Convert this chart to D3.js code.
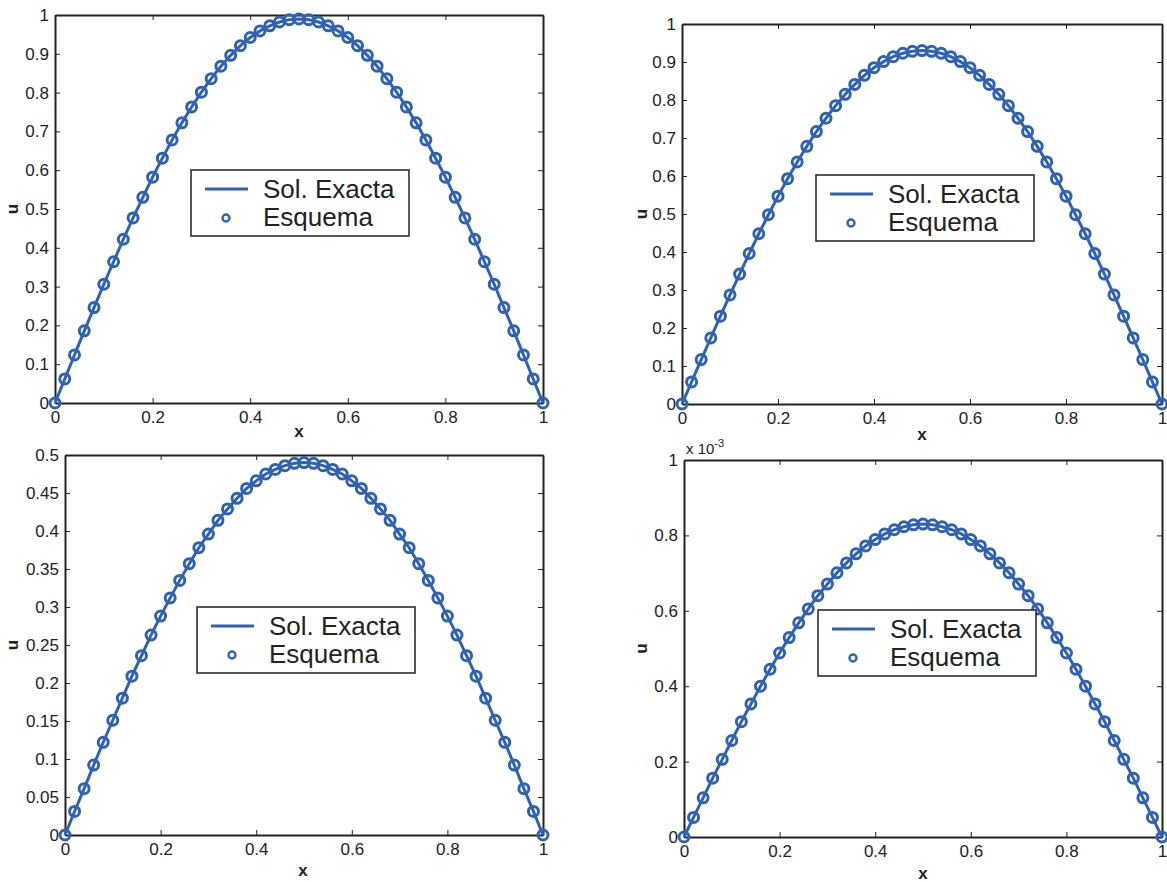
<!DOCTYPE html>
<html>
<head>
<meta charset="utf-8">
<script src="https://cdn.jsdelivr.net/npm/d3@7"></script>
<style>
  body { margin: 0; background: #fff; }
  svg { font-family: "Liberation Sans", Arial, sans-serif; }
  .tick text { font-size: 17px; fill: #222; }
  .axis-label { font-size: 17px; font-weight: bold; fill: #222; }
  .legend text { font-size: 26px; fill: #222; }
</style>
</head>
<body>
<svg width="1167" height="882"></svg>
<script>
const xs = [0, 0.02, 0.04, 0.06, 0.08, 0.1, 0.12, 0.14, 0.16, 0.18, 0.2, 0.22, 0.24, 0.26, 0.28, 0.3,
  0.32, 0.34, 0.36, 0.38, 0.4, 0.42, 0.44, 0.46, 0.48, 0.5, 0.52, 0.54, 0.56, 0.58, 0.6, 0.62, 0.64,
  0.66, 0.68, 0.7, 0.72, 0.74, 0.76, 0.78, 0.8, 0.82, 0.84, 0.86, 0.88, 0.9, 0.92, 0.94, 0.96, 0.98, 1];

const u1 = [0, .062, .124, .186, .246, .306, .364, .422, .477, .530, .582, .631, .678, .722, .763, .801,
  .836, .868, .896, .921, .942, .959, .972, .982, .988, .990, .988, .982, .972, .959, .942, .921, .896,
  .868, .836, .801, .763, .722, .678, .631, .582, .530, .477, .422, .364, .306, .246, .186, .124, .062, 0];

const u2 = [0, .058, .117, .174, .231, .287, .342, .396, .448, .498, .547, .593, .637, .678, .717, .752,
  .785, .815, .841, .865, .885, .901, .914, .923, .928, .930, .928, .923, .914, .901, .885, .865, .841,
  .815, .785, .752, .717, .678, .637, .593, .547, .498, .448, .396, .342, .287, .231, .174, .117, .058, 0];

const u3 = [0, .031, .061, .092, .122, .151, .180, .209, .236, .263, .288, .312, .335, .357, .378, .396,
  .414, .429, .443, .456, .466, .475, .481, .486, .489, .490, .489, .486, .481, .475, .466, .456, .443,
  .429, .414, .396, .378, .357, .335, .312, .288, .263, .236, .209, .180, .151, .122, .092, .061, .031, 0];

// in units of 1e-3
const u4 = [0, .052, .104, .156, .206, .256, .306, .353, .400, .445, .488, .529, .568, .605, .640, .671,
  .701, .727, .751, .772, .789, .804, .815, .823, .828, .830, .828, .823, .815, .804, .789, .772, .751,
  .727, .701, .671, .640, .605, .568, .529, .488, .445, .400, .353, .306, .256, .206, .156, .104, .052, 0];

const xTicks = [0, 0.2, 0.4, 0.6, 0.8, 1];
const yTicksA = [0, 0.1, 0.2, 0.3, 0.4, 0.5, 0.6, 0.7, 0.8, 0.9, 1];
const yTicksB = [0, 0.05, 0.1, 0.15, 0.2, 0.25, 0.3, 0.35, 0.4, 0.45, 0.5];
const yTicksC = [0, 0.2, 0.4, 0.6, 0.8, 1];
const legendLabels = ["Sol. Exacta", "Esquema"];

const blue = "#2f62b5";
const ink = "#222";
const svg = d3.select("svg");

const panels = [
  { u: u1, ymax: 1, yTicks: yTicksA, box: [55, 543, 15, 403], labelX: 299, labelY: 437, uX: 18, legend: [191, 170] },
  { u: u2, ymax: 1, yTicks: yTicksA, box: [682, 1162, 24, 404], labelX: 922, labelY: 440, uX: 647, legend: [816, 175] },
  { u: u3, ymax: 0.5, yTicks: yTicksB, box: [65, 543, 455, 835], labelX: 303, labelY: 876, uX: 18, legend: [197, 607] },
  { u: u4, ymax: 1, yTicks: yTicksC, box: [684, 1162, 460, 837], labelX: 923, labelY: 879, uX: 647, legend: [818, 610], exp: true },
];

panels.forEach((p) => {
  const [x0, x1, y1, y0] = p.box;
  const x = d3.scaleLinear().domain([0, 1]).range([x0, x1]);
  const y = d3.scaleLinear().domain([0, p.ymax]).range([y0, y1]);
  const g = svg.append("g");
  const fmt = (d) => String(+d.toFixed(2));

  const axis = (gen, tr) => {
    const a = g.append("g").attr("transform", tr).call(gen);
    a.select(".domain").attr("stroke", ink).attr("stroke-width", 2);
    a.selectAll(".tick line").attr("stroke", ink).attr("stroke-width", 1);
    return a;
  };
  // bottom and left with labels, top and right mirrored ticks
  const bx = axis(d3.axisBottom(x).tickValues(xTicks).tickFormat(fmt).tickSizeInner(-5).tickSizeOuter(0).tickPadding(8), `translate(0,${y0})`);
  axis(d3.axisTop(x).tickValues(xTicks).tickFormat("").tickSizeInner(-5).tickSizeOuter(0), `translate(0,${y1})`);
  const ly = axis(d3.axisLeft(y).tickValues(p.yTicks).tickFormat(fmt).tickSizeInner(-5).tickSizeOuter(0).tickPadding(6), `translate(${x0},0)`);
  axis(d3.axisRight(y).tickValues(p.yTicks).tickFormat("").tickSizeInner(-5).tickSizeOuter(0), `translate(${x1},0)`);
  bx.selectAll(".tick text").attr("font-family", null);
  ly.selectAll(".tick text").attr("font-family", null);

  if (p.exp) {
    const t = g.append("text").attr("x", x0 + 2).attr("y", y1 - 6).attr("font-size", 15).attr("fill", ink);
    t.append("tspan").text("x 10");
    t.append("tspan").attr("dy", -7).attr("font-size", 11).text("-3");
  }

  g.append("text").attr("class", "axis-label").attr("x", p.labelX).attr("y", p.labelY)
    .attr("text-anchor", "middle").text("x");
  g.append("text").attr("class", "axis-label")
    .attr("transform", `translate(${p.uX},${(y0 + y1) / 2}) rotate(-90)`)
    .attr("text-anchor", "middle").text("u");

  const line = d3.line().x((d, i) => x(xs[i])).y((d) => y(d));
  g.append("path").datum(p.u).attr("d", line)
    .attr("fill", "none").attr("stroke", blue).attr("stroke-width", 3);
  g.selectAll("circle.pt").data(p.u).join("circle").attr("class", "pt")
    .attr("cx", (d, i) => x(xs[i])).attr("cy", (d) => y(d)).attr("r", 5)
    .attr("fill", "none").attr("stroke", blue).attr("stroke-width", 3);

  const [lx, ly0] = p.legend;
  const lg = g.append("g").attr("class", "legend").attr("transform", `translate(${lx},${ly0})`);
  lg.append("rect").attr("width", 218).attr("height", 66)
    .attr("fill", "#fff").attr("stroke", ink).attr("stroke-width", 1.5);
  lg.append("line").attr("x1", 14).attr("x2", 57).attr("y1", 19).attr("y2", 19)
    .attr("stroke", blue).attr("stroke-width", 3);
  lg.append("circle").attr("cx", 35).attr("cy", 48).attr("r", 3.5)
    .attr("fill", "none").attr("stroke", blue).attr("stroke-width", 2.4);
  legendLabels.forEach((s, i) => {
    lg.append("text").attr("x", 72).attr("y", 28 + i * 28).text(s);
  });
});
</script>
</body>
</html>
